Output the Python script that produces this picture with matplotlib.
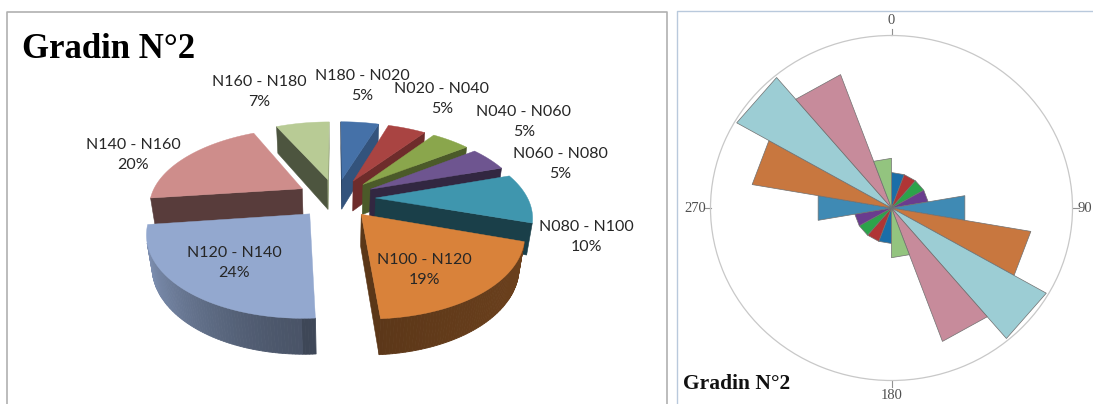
import numpy as np
import matplotlib.pyplot as plt
from matplotlib.colors import to_rgb

# orientation classes (20 degree bins) and their share in %
classes = ["N180 - N020", "N020 - N040", "N040 - N060", "N060 - N080", "N080 - N100",
           "N100 - N120", "N120 - N140", "N140 - N160", "N160 - N180"]
percent = [5, 5, 5, 5, 10, 19, 24, 20, 7]
bin_start = [0, 20, 40, 60, 80, 100, 120, 140, 160]

pie_colors = ["#4571a8", "#a94442", "#8aa64c", "#6e5590", "#3f96ae",
              "#d9823a", "#93a8cf", "#ce8d8b", "#b8cb95"]
rose_colors = ["#1a6ea8", "#b03535", "#2ca34a", "#6a3c8e", "#3f8ab4",
               "#c8773f", "#9ccdd4", "#c78b9b", "#93c47f"]

# label centres for the pie (pixels) -- layout only
label_pos = [(362, 86), (442, 99), (524, 122), (560, 164), (586, 237),
             (424, 270), (234, 263), (133, 155), (259, 92)]

W, H = 1093, 404
fig = plt.figure(figsize=(W / 100, H / 100), dpi=100)
ax = fig.add_axes([0, 0, 1, 1])
ax.set_xlim(0, W)
ax.set_ylim(H, 0)
ax.axis("off")

# panel frames
ax.plot([7, 7, 667, 667], [H + 2, 12, 12, H + 2], color="#b0b0b0", lw=1.2)
ax.plot([677, 677, W + 2], [H + 2, 11, 11], color="#b9c9dc", lw=1.0)

ax.text(22, 50, "Gradin N°2", fontsize=25, fontweight="bold",
        family="Liberation Serif", va="center", ha="left", color="black")

# ---- exploded 3D pie, simple perspective projection ----
cx, cy, s = 336, 198, 152
alpha = np.radians(30)
ca, sa = np.cos(alpha), np.sin(alpha)
L = 4.3
explode = 0.26
thick = 0.24
cam = np.array([0.0, -L * ca, L * sa])


def proj(X, Y, Z):
    w = L + Y * ca - Z * sa
    f = L / w
    return cx + s * X * f, cy - s * (Y * sa + Z * ca) * f


def shade(col, k):
    return tuple(np.clip(np.array(to_rgb(col)) * k, 0, 1))


def side_k(phi):
    sp = np.sin(phi)
    return 0.42 + 0.35 * max(0.0, sp) ** 2


def wall_k(phi):
    sp = np.sin(phi)
    if sp < 0:
        return 0.5 + 0.38 * (-sp) ** 1.5
    return 0.42 + 0.08 * sp


def visible(normal, point):
    return np.dot(normal, cam - point) > 0


bounds = np.concatenate([[0], np.cumsum(percent)]) / np.sum(percent) * 2 * np.pi
mids = (bounds[:-1] + bounds[1:]) / 2
order = sorted(range(len(percent)), key=lambda i: -np.cos(mids[i]))

for i in order:
    ta, tb = bounds[i], bounds[i + 1]
    m = mids[i]
    ex, ey = explode * np.sin(m), explode * np.cos(m)
    col = pie_colors[i]
    apex = np.array([ex, ey, 0.0])

    # radial faces
    for t, nrm in ((ta, np.array([-np.cos(ta), np.sin(ta), 0.0])),
                   (tb, np.array([np.cos(tb), -np.sin(tb), 0.0]))):
        if visible(nrm, apex):
            rx, ry = ex + np.sin(t), ey + np.cos(t)
            pts = [proj(ex, ey, 0), proj(rx, ry, 0), proj(rx, ry, -thick), proj(ex, ey, -thick)]
            phi = np.arctan2(nrm[0], nrm[1])
            ax.fill(*zip(*pts), color=shade(col, side_k(phi)), lw=0.4)

    # curved outer wall
    n = max(3, int(np.degrees(tb - ta)) + 1)
    th = np.linspace(ta, tb, n)
    for a, b in zip(th[:-1], th[1:]):
        tm = (a + b) / 2
        nrm = np.array([np.sin(tm), np.cos(tm), 0.0])
        p = np.array([ex + np.sin(tm), ey + np.cos(tm), 0.0])
        if not visible(nrm, p):
            continue
        pts = [proj(ex + np.sin(a), ey + np.cos(a), 0), proj(ex + np.sin(b), ey + np.cos(b), 0),
               proj(ex + np.sin(b), ey + np.cos(b), -thick), proj(ex + np.sin(a), ey + np.cos(a), -thick)]
        c = shade(col, wall_k(tm))
        ax.fill(*zip(*pts), color=c, lw=0.6)

    # top face
    th = np.linspace(ta, tb, 60)
    xs, ys = proj(np.r_[ex, ex + np.sin(th)], np.r_[ey, ey + np.cos(th)], 0)
    ax.fill(xs, ys, color=col, lw=0.3)

for name, pct, (lx, ly) in zip(classes, percent, label_pos):
    ax.text(lx, ly, f"{name}\n{pct}%", ha="center", va="center", fontsize=11.5,
            family="Lato", color="#262626", linespacing=1.5)

# ---- rose diagram ----
rmax = 24.3
rc_x, rc_y, rw, rh = 891.5, 208, 362, 345
pax = fig.add_axes([(rc_x - rw / 2) / W, (H - rc_y - rh / 2) / H, rw / W, rh / H],
                   projection="polar")
pax.set_aspect("auto")
pax.set_theta_zero_location("N")
pax.set_theta_direction(-1)
pax.set_ylim(0, rmax)
pax.grid(False)
pax.set_xticks([])
pax.set_yticks([])
pax.spines["polar"].set_color("#c8c8c8")
pax.spines["polar"].set_linewidth(0.9)
pax.patch.set_alpha(0)

for b0, val, col in zip(bin_start, percent, rose_colors):
    for off in (0, 180):
        a, b = np.radians(b0 + off), np.radians(b0 + off + 20)
        pax.fill([a, a, b], [0, val, val], color=col, ec="#707070", lw=0.5)

for deg in (0, 90, 180, 270):
    t = np.radians(deg)
    pax.plot([t, t], [rmax, rmax * 1.035], color="#909090", lw=0.8, clip_on=False)
    if deg == 90:
        # right edge of the panel is tight, keep the label inside the figure
        ax.text(W - 1, rc_y, str(deg), ha="right", va="center", fontsize=10.5,
                family="Liberation Serif", color="#505050")
    else:
        pax.text(t, rmax * 1.085, str(deg), ha="center", va="center", fontsize=10.5,
                 family="Liberation Serif", color="#505050", clip_on=False)

ax.text(683, 384, "Gradin N°2", fontsize=15.5, fontweight="bold",
        family="Liberation Serif", va="center", ha="left", color="#111111")

fig.savefig("out.png", dpi=100)
